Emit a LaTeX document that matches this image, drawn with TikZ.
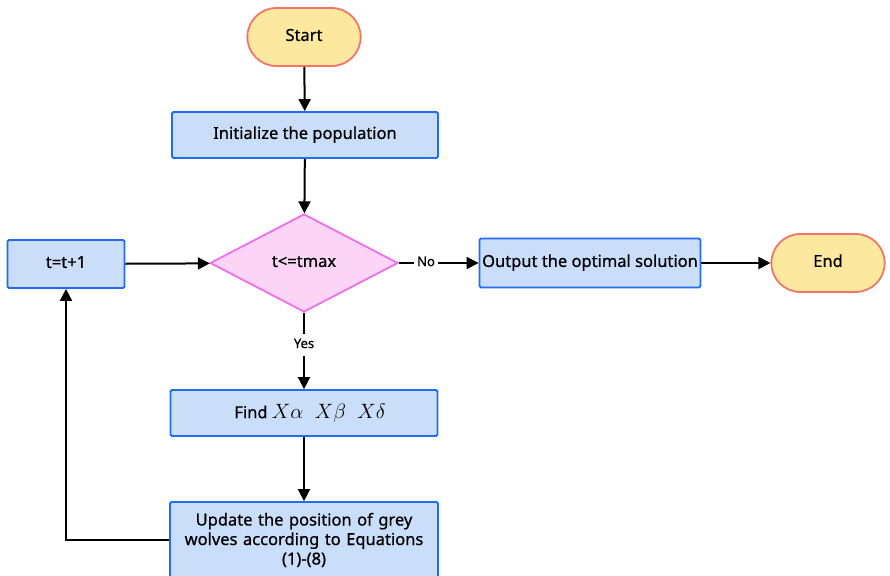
\documentclass[tikz,border=0pt]{standalone}
\usepackage{fontspec}
\setmainfont{Noto Sans}[BoldFont={Noto Sans},BoldFeatures={FakeBold=0.7}]
\usetikzlibrary{shapes.geometric,shapes.misc,arrows.meta}

\definecolor{termfill}{HTML}{FCE89E}
\definecolor{termline}{HTML}{F2756A}
\definecolor{procfill}{HTML}{CADDF9}
\definecolor{procline}{HTML}{1F6EF2}
\definecolor{decfill}{HTML}{FCD4F6}
\definecolor{decline}{HTML}{F06EE6}

\tikzset{
  terminal/.style={draw=termline,fill=termfill,line width=1.8pt,rounded rectangle,
    minimum width=120pt,minimum height=58pt},
  process/.style={draw=procline,fill=procfill,line width=1.8pt,rounded corners=1.5pt,
    align=center},
  decision/.style={draw=decline,fill=decfill,line width=1.8pt,diamond,aspect=1.92,
    minimum width=188pt,minimum height=98pt,inner sep=0pt},
  flow/.style={line width=2pt,-{Triangle[length=12pt,width=12pt]}},
  plain/.style={line width=2pt},
  tag/.style={font=\fontsize{13}{15}\selectfont\bfseries,inner sep=3pt}
}

\begin{document}
\begin{tikzpicture}[x=1pt,y=-1pt,font=\fontsize{16.5}{19.5}\selectfont\bfseries]
    \useasboundingbox (0,0) rectangle (890,575);

    \node[terminal] (start) at (304,37) {Start\strut};
    \node[process,minimum width=266pt,minimum height=46pt] (init) at (305,135) {Initialize the population\strut};
    \node[decision] (check) at (304,263) {t<=tmax\strut};
    \node[process,minimum width=117pt,minimum height=48pt] (incr) at (66,264) {t=t+1\strut};
    \node[process,minimum width=221pt,minimum height=49pt,inner sep=1pt] (out) at (590,263) {Output the optimal solution\strut};
    \node[terminal] (finish) at (828,263) {End\strut};
    \node[process,minimum width=267pt,minimum height=46pt] (find) at (304,413)
      {\hspace{12pt}Find {\fontsize{22}{24}\selectfont$X\alpha\ \ X\beta\ \ X\delta$}};
    \node[process,minimum width=268pt,minimum height=76pt,text width=260pt,inner sep=2pt] (upd) at (304,540)
      {Update the position of grey\\wolves according to Equations\\(1)-(8)\\[10pt]};

    \node[tag] (no) at (426,263) {No\strut};
    \node[tag] (yes) at (304,345) {Yes\strut};
    \coordinate (turn) at (66,540);

    \draw[flow] (start) -- (init);
    \draw[flow] (init) -- (check);
    \draw[plain] (check.east) -- (no);
    \draw[flow] (no) -- (out);
    \draw[flow] (out) -- (finish);
    \draw[plain] (check.south) -- (yes);
    \draw[flow] (yes) -- (find);
    \draw[flow] (find) -- (find |- upd.north);
    \draw[flow] (upd.west |- turn) -- (turn) -- (incr);
    \draw[flow] (incr) -- (check);
  \end{tikzpicture}
\end{document}
